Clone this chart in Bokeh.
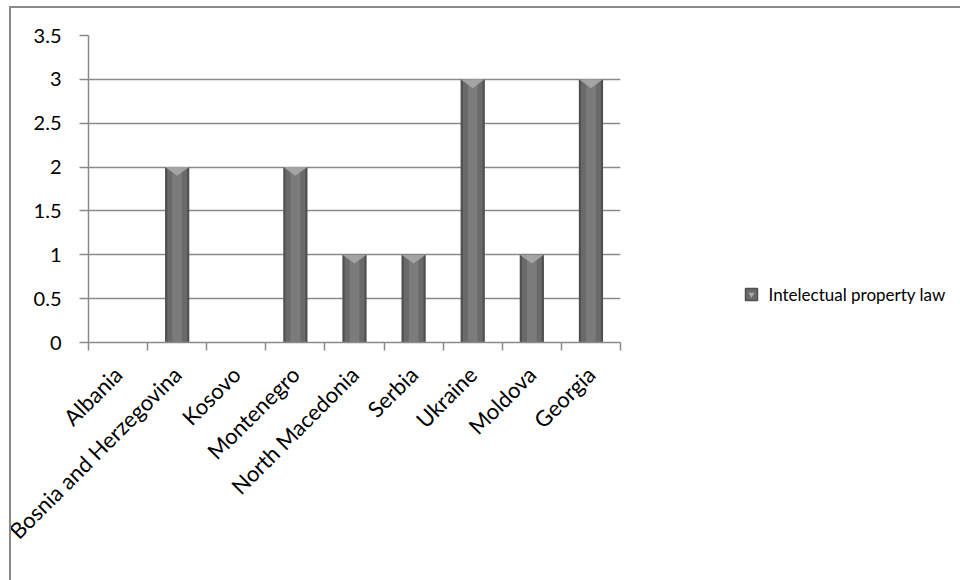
import math
from bokeh.plotting import figure
from bokeh.models import (Range1d, FixedTicker, CustomJSTickFormatter, Spacer, ColumnDataSource)
from bokeh.core.properties import value
from bokeh.layouts import column, row
from bokeh.embed import file_html
from bokeh.resources import INLINE

# ---- data ----
categories = ["Albania", "Bosnia and Herzegovina", "Kosovo", "Montenegro",
              "North Macedonia", "Serbia", "Ukraine", "Moldova", "Georgia"]
values = [0, 2, 0, 2, 1, 1, 3, 1, 3]
series_name = "Intelectual property law"
y_ticks = [0, 0.5, 1, 1.5, 2, 2.5, 3, 3.5]

FONT = "Lato"
GRAY = "#8a8a8a"
BAR_DARK, BAR_MID, BAR_LIGHT, BAR_TOP = "#505050", "#6a6a6a", "#7b7b7b", "#a9a9a9"

x_pos = [i + 0.5 for i in range(len(categories))]
boundaries = list(range(len(categories) + 1))
src = ColumnDataSource(dict(x=x_pos, top=values, name=categories))

BAR_W = 0.41
bevel = 0.1
tri_xs, tri_ys = [], []
for xc, v in zip(x_pos, values):
    if v > 0:
        tri_xs.append([xc - BAR_W / 2, xc + BAR_W / 2, xc])
        tri_ys.append([v, v, v - bevel])

p = figure(width=620, height=572, output_backend="svg", toolbar_location=None,
           x_range=Range1d(0, len(categories)), y_range=Range1d(0, 3.5),
           min_border_left=77, min_border_right=11, min_border_top=27,
           min_border_bottom=238)
p.outline_line_color = None
p.background_fill_color = "white"
p.border_fill_color = "white"

# bars (layered for a bevelled look)
p.vbar(x="x", top="top", width=BAR_W, source=src, fill_color=BAR_DARK, line_color=None)
p.vbar(x="x", top="top", width=BAR_W * 0.82, source=src, fill_color=BAR_MID, line_color=None)
p.vbar(x="x", top="top", width=BAR_W * 0.4, source=src, fill_color=BAR_LIGHT, line_color=None)
p.patches(tri_xs, tri_ys, fill_color=BAR_TOP, line_color=None, fill_alpha=0.9)

# axes
p.xgrid.visible = False
p.ygrid.ticker = FixedTicker(ticks=y_ticks)
p.ygrid.grid_line_color = GRAY
p.ygrid.grid_line_width = 1.5

xa = p.xaxis[0]
xa.ticker = FixedTicker(ticks=x_pos, minor_ticks=boundaries)
xa.formatter = CustomJSTickFormatter(args=dict(names=categories),
                                     code="return names[Math.floor(tick)] || '';")
xa.axis_line_color = GRAY
xa.axis_line_width = 1.5
xa.major_tick_line_color = None
xa.minor_tick_line_color = GRAY
xa.minor_tick_line_width = 1.5
xa.minor_tick_out = 8
xa.minor_tick_in = 0
xa.major_label_orientation = math.pi / 4
xa.major_label_standoff = 20
xa.major_label_text_font = FONT
xa.major_label_text_font_size = "22px"
xa.major_label_text_color = "black"

ya = p.yaxis[0]
ya.ticker = FixedTicker(ticks=y_ticks)
ya.formatter = CustomJSTickFormatter(code="return tick.toString();")
ya.axis_line_color = GRAY
ya.axis_line_width = 1.5
ya.major_tick_line_color = GRAY
ya.major_tick_line_width = 1.5
ya.major_tick_out = 9
ya.major_tick_in = 0
ya.minor_tick_line_color = None
ya.major_label_standoff = 18
ya.major_label_text_font = FONT
ya.major_label_text_font_size = "20px"
ya.major_label_text_color = "black"

# legend area: a separate blank figure in pixel units
LG_W, LG_H = 329, 572
lg = figure(frame_width=LG_W, frame_height=LG_H, output_backend="svg", toolbar_location=None,
            x_range=Range1d(0, LG_W), y_range=Range1d(0, LG_H),
            x_axis_location=None, y_axis_location=None,
            min_border_left=0, min_border_right=0, min_border_top=0, min_border_bottom=0)
lg.outline_line_color = None
lg.xgrid.visible = False
lg.ygrid.visible = False
lg.border_fill_color = "white"
lg.background_fill_color = "white"
key_x, key_y = 120, LG_H - 259
lg.scatter(x=[key_x], y=[key_y], marker="square", size=12,
           fill_color=BAR_MID, line_color=BAR_DARK, line_width=1.5)
lg.scatter(x=[key_x], y=[key_y], marker="inverted_triangle", size=6,
           fill_color=BAR_TOP, line_color=None)
lg.text(x=[key_x + 17], y=[key_y], text=[series_name], text_baseline="middle",
        text_align="left", text_font=value(FONT), text_font_size="17px", text_color="black")

root = column(
    Spacer(width=960, height=6),
    row(
        Spacer(width=9, height=574),
        column(
            Spacer(width=951, height=2, styles={"background-color": GRAY}),
            row(Spacer(width=2, height=572, styles={"background-color": GRAY}), p, lg),
        ),
    ),
)

open("out.html", "w").write(file_html(root, INLINE))
